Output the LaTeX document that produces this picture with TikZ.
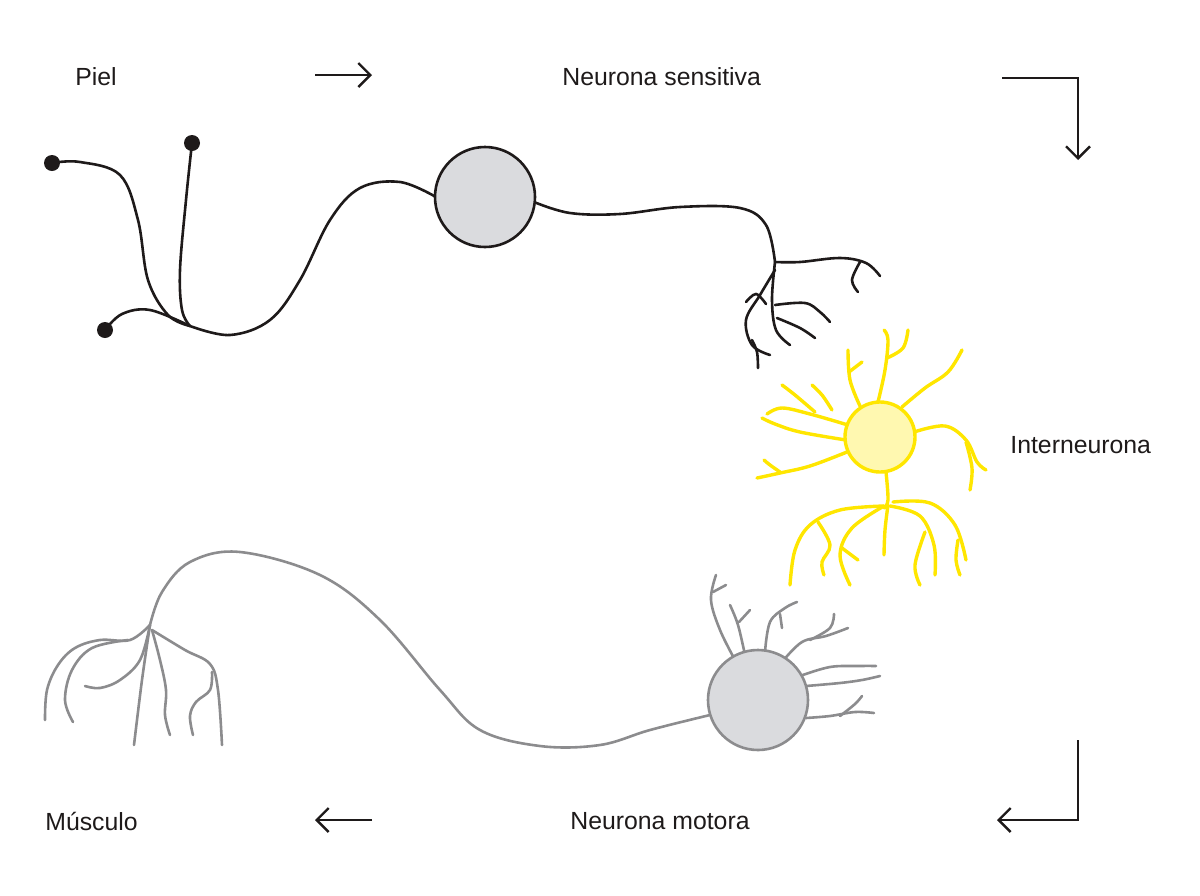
\documentclass[tikz,border=0pt]{standalone}
\usepackage{fontspec}
\setmainfont{Liberation Sans}
\usetikzlibrary{arrows.meta}
\definecolor{dk}{HTML}{1E1A1A}
\definecolor{gr}{HTML}{8C8C8E}
\definecolor{yl}{HTML}{FFE600}
\definecolor{soma}{HTML}{DADBDE}
\definecolor{ysoma}{HTML}{FFF8B0}
\begin{document}
\begin{tikzpicture}[x=0.5pt,y=-0.5pt,
  lbl/.style={font=\fontsize{12.4}{15}\selectfont,text=dk,inner sep=0},
  flow/.style={dk,line width=1.2pt,-{Straight Barb[length=6pt,width=12pt,line width=1.2pt]}},
  sens/.style={dk,line width=1.3pt,line cap=round},
  mot/.style={gr,line width=1.3pt,line cap=round},
  inter/.style={yl,line width=1.7pt,line cap=round},
  sm/.style={smooth,tension=0.6}]
\useasboundingbox (0,0) rectangle (1200,895);
\node[lbl,anchor=west] (piel) at (75,77) {Piel};
\node[lbl,anchor=west] (ns) at (562,77) {Neurona sensitiva};
\node[lbl,anchor=west] (in) at (1010,445) {Interneurona};
\node[lbl,anchor=west] (nm) at (570,821) {Neurona motora};
\node[lbl,anchor=west] (mu) at (45,821) {Músculo};
\coordinate (a1s) at (315,75); \coordinate (a1e) at (372,75);
\draw[flow] (a1s) -- (a1e);
\coordinate (a2s) at (1002,78); \coordinate (a2m) at (1078,78); \coordinate (a2e) at (1078,160);
\draw[flow] (a2s) -- (a2m) -- (a2e);
\coordinate (a3s) at (1078,740); \coordinate (a3m) at (1078,820); \coordinate (a3e) at (997,820);
\draw[flow] (a3s) -- (a3m) -- (a3e);
\coordinate (a4s) at (372,820); \coordinate (a4e) at (315,820);
\draw[flow] (a4s) -- (a4e);
% sensory neuron
\draw[sens] plot[sm] coordinates {(52,163) (80,162) (120,175) (138,220) (148,280) (168,315) (190,326)};
\draw[sens] plot[sm] coordinates {(192,143) (186,200) (180,270) (182,310) (190,326)};
\draw[sens] plot[sm] coordinates {(105,330) (122,314) (150,310) (190,326)};
\draw[sens] plot[sm] coordinates {(190,326) (230,335) (270,320) (300,280) (330,220) (360,188) (400,182) (436,197)};
\draw[sens] plot[sm] coordinates {(534,202) (570,213) (620,214) (680,207) (740,208) (766,225) (775,262)};
\draw[sens] plot[sm] coordinates {(775,262) (800,262) (840,258) (866,263) (880,276)};
\draw[sens] plot[sm] coordinates {(860,262) (852,280) (858,292)};
\draw[sens] plot[sm] coordinates {(775,262) (772,300) (776,330) (790,345)};
\draw[sens] plot[sm] coordinates {(775,270) (760,295) (746,320) (752,345) (770,355)};
\draw[sens] plot[sm] coordinates {(746,302) (756,294) (766,304)};
\draw[sens] plot[sm] coordinates {(775,305) (805,303) (820,312) (830,322)};
\draw[sens] plot[sm] coordinates {(777,318) (800,328) (815,338)};
\draw[sens] plot[sm] coordinates {(752,340) (757,352) (758,368)};
\fill[dk] (52,163) circle (8); \fill[dk] (192,143) circle (8); \fill[dk] (105,330) circle (8);
\node[circle,draw=dk,fill=soma,line width=1.3pt,minimum size=50pt,inner sep=0] (s1) at (485,197) {};
% interneuron
\draw[inter] plot[sm] coordinates {(848,425) (810,414) (782,408) (767,414)};
\draw[inter] plot[sm] coordinates {(815,412) (795,395) (782,385)};
\draw[inter] plot[sm] coordinates {(846,440) (800,432) (775,424) (762,418)};
\draw[inter] plot[sm] coordinates {(847,452) (810,466) (780,473) (757,478)};
\draw[inter] plot[sm] coordinates {(780,472) (770,465) (764,460)};
\draw[inter] plot[sm] coordinates {(860,406) (850,380) (848,350)};
\draw[inter] plot[sm] coordinates {(849,372) (862,362)};
\draw[inter] plot[sm] coordinates {(832,410) (822,395) (812,385)};
\draw[inter] plot[sm] coordinates {(878,402) (885,370) (888,340) (884,330)};
\draw[inter] plot[sm] coordinates {(887,358) (903,348) (908,330)};
\draw[inter] plot[sm] coordinates {(902,407) (925,388) (948,372) (962,350)};
\draw[inter] plot[sm] coordinates {(914,432) (945,426) (966,440) (977,462) (986,470)};
\draw[inter] plot[sm] coordinates {(966,442) (972,468) (970,490)};
\draw[inter] plot[sm] coordinates {(886,472) (888,500) (884,508)};
\draw[inter] plot[sm] coordinates {(884,506) (840,510) (810,525) (795,550) (790,585)};
\draw[inter] plot[sm] coordinates {(884,506) (852,528) (840,555) (850,585)};
\draw[inter] plot[sm] coordinates {(888,505) (885,530) (884,555)};
\draw[inter] plot[sm] coordinates {(890,506) (920,516) (934,545) (935,575)};
\draw[inter] plot[sm] coordinates {(893,502) (930,503) (955,525) (966,560)};
\draw[inter] plot[sm] coordinates {(818,522) (830,545) (822,562) (824,575)};
\draw[inter] plot[sm] coordinates {(842,548) (858,560)};
\draw[inter] plot[sm] coordinates {(925,532) (915,565) (920,585)};
\draw[inter] plot[sm] coordinates {(958,540) (956,560) (960,575)};
\node[circle,draw=yl,fill=ysoma,line width=1.7pt,minimum size=35pt,inner sep=0] (s2) at (880,437) {};
% motor neuron
\draw[mot] plot[sm] coordinates {(710,715) (650,730) (600,745) (540,746) (480,730) (440,690) (380,620) (320,575) (240,552) (190,562) (162,592) (150,625)};
\draw[mot] plot[sm] coordinates {(150,625) (130,640) (100,640) (75,648) (58,665) (47,690) (45,720)};
\draw[mot] plot[sm] coordinates {(128,640) (92,648) (72,670) (65,700) (73,722)};
\draw[mot] plot[sm] coordinates {(150,625) (140,660) (120,680) (100,688) (85,686)};
\draw[mot] plot[sm] coordinates {(150,625) (142,680) (134,745)};
\draw[mot] plot[sm] coordinates {(152,630) (160,660) (166,690) (165,715) (170,735)};
\draw[mot] plot[sm] coordinates {(152,630) (185,650) (210,664) (218,690) (222,745)};
\draw[mot] plot[sm] coordinates {(212,672) (210,690) (196,702) (190,716) (193,735)};
\draw[mot] plot[sm] coordinates {(735,660) (720,630) (711,600) (716,575)};
\draw[mot] plot[sm] coordinates {(713,592) (726,585)};
\draw[mot] plot[sm] coordinates {(745,655) (738,625) (730,605)};
\draw[mot] plot[sm] coordinates {(739,622) (750,610)};
\draw[mot] plot[sm] coordinates {(765,652) (770,622) (785,608) (797,602)};
\draw[mot] plot[sm] coordinates {(780,614) (782,628)};
\draw[mot] plot[sm] coordinates {(782,662) (802,642) (826,636) (848,628)};
\draw[mot] plot[sm] coordinates {(810,640) (830,628) (834,614)};
\draw[mot] plot[sm] coordinates {(800,676) (830,667) (860,666) (876,666)};
\draw[mot] plot[sm] coordinates {(806,686) (840,683) (862,680) (880,676)};
\draw[mot] plot[sm] coordinates {(806,718) (830,716) (855,712) (874,713)};
\draw[mot] plot[sm] coordinates {(840,716) (855,704) (862,696)};
\node[circle,draw=gr,fill=soma,line width=1.3pt,minimum size=50pt,inner sep=0] (s3) at (758,700) {};
\end{tikzpicture}
\end{document}
